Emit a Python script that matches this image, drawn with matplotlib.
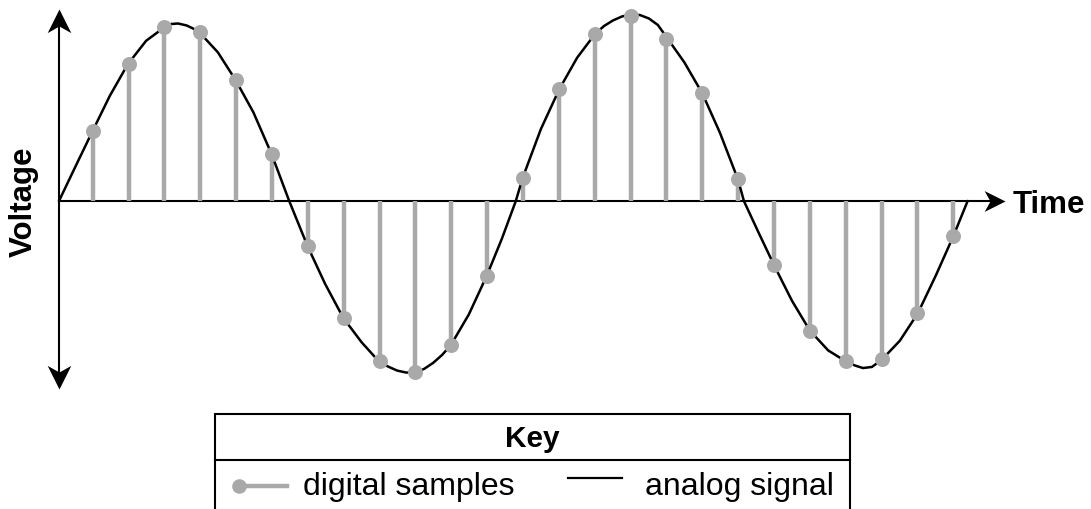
import matplotlib
matplotlib.use("Agg")
import matplotlib.pyplot as plt
from matplotlib.patches import Rectangle
from matplotlib.path import Path

# sample instants (one per sampling period) and their voltages
sample_t = list(range(1, 26))
sample_v = [0.39, 0.76, 0.965, 0.94, 0.67, 0.26, -0.25, -0.65, -0.89, -0.95,
            -0.80, -0.415, 0.13, 0.62, 0.93, 1.03, 0.90, 0.60, 0.12, -0.355,
            -0.72, -0.89, -0.88, -0.62, -0.196]

# analog signal
curve_t = [0.06, 0.53, 1.0, 1.48, 1.98, 2.49, 3.0, 3.18, 3.38, 3.62, 3.80, 3.98,
           4.49, 4.99, 5.48, 5.99, 6.48, 6.99, 7.48, 7.99, 8.50, 8.99, 9.23,
           9.49, 9.74, 9.99, 10.24, 10.49, 10.74, 10.99, 11.49, 11.99, 12.41,
           12.80, 12.99, 13.5, 14.01, 14.51, 15.01, 15.26, 15.51, 15.76, 16.01,
           16.26, 16.51, 16.76, 17.0, 17.5, 18.0, 18.49, 19.0, 19.16, 19.58,
           20.0, 20.5, 21.0, 21.51, 22.01, 22.26, 22.48, 22.73, 23.0, 23.51,
           24.01, 24.51, 25.0, 25.40]
curve_v = [0.0, 0.196, 0.39, 0.585, 0.76, 0.89, 0.965, 0.983, 0.986, 0.975,
           0.958, 0.936, 0.826, 0.67, 0.493, 0.26, 0.0, -0.25, -0.46, -0.65,
           -0.785, -0.893, -0.919, -0.942, -0.953, -0.953, -0.933, -0.90,
           -0.856, -0.80, -0.63, -0.415, -0.21, 0.0, 0.128, 0.40, 0.62, 0.796,
           0.928, 0.972, 1.003, 1.025, 1.036, 1.033, 1.014, 0.978, 0.911, 0.77,
           0.598, 0.38, 0.117, 0.0, -0.18, -0.356, -0.554, -0.72, -0.83,
           -0.892, -0.914, -0.928, -0.922, -0.883, -0.776, -0.624, -0.415,
           -0.196, 0.0]

GRAY = "#a9a9a9"
FONT = "Liberation Sans"


def stealth(direction):
    # arrow head with a notched back, tip at the origin
    pts = [(0, 0), (0.5, -1), (0, -0.72), (-0.5, -1), (0, 0)]
    if direction == "down":
        pts = [(x, -y) for x, y in pts]
    elif direction == "right":
        pts = [(-y, x) for x, y in pts]
        pts = [(-x, y) for x, y in pts]
    codes = [Path.MOVETO] + [Path.LINETO] * 3 + [Path.CLOSEPOLY]
    return Path(pts, codes)


fig = plt.figure(figsize=(10.91, 5.10), dpi=100, facecolor="white")
ax = fig.add_axes([0, 0, 1, 1])
ax.set_xlim(-1.585, 28.84)
ax.set_ylim(-1.711, 1.122)
ax.set_axis_off()

# axes with arrow heads
ax.plot([0.06, 0.06], [1.0, -0.98], color="black", lw=1.5, zorder=2)
ax.plot([0.06, 26.2], [0, 0], color="black", lw=1.5, zorder=2)
ax.plot([0.06], [1.067], marker=stealth("up"), ms=34, color="black", mec="none")
ax.plot([0.06], [-1.044], marker=stealth("down"), ms=34, color="black", mec="none")
ax.plot([26.44], [0], marker=stealth("right"), ms=30, color="black", mec="none")

# stems, analog curve, sample dots
ax.vlines(sample_t, 0, sample_v, color=GRAY, lw=3.2, zorder=2)
ax.plot(curve_t, curve_v, color="black", lw=1.8, solid_joinstyle="round",
        solid_capstyle="round", zorder=3)
ax.plot(sample_t, sample_v, "o", color=GRAY, ms=10.8, mec="none", zorder=4)

ax.text(-0.92, 0.0, "Voltage", rotation=90, ha="center", va="center",
        fontsize=22.5, fontweight="bold", family=FONT)
ax.text(26.66, -0.061, "Time", ha="left", va="baseline",
        fontsize=22.5, fontweight="bold", family=FONT)

# key box
ax.add_patch(Rectangle((4.41, -1.9), 22.12 - 4.41, -1.183 + 1.9, fill=False,
                       lw=1.5, edgecolor="black", zorder=5))
ax.plot([4.41, 22.12], [-1.439, -1.439], color="black", lw=1.5, zorder=5)
ax.text(13.26, -1.361, "Key", ha="center", va="baseline",
        fontsize=21.5, fontweight="bold", family=FONT)
ax.plot([5.09, 6.42], [-1.585, -1.585], color=GRAY, lw=3.2)
ax.plot([5.09], [-1.585], "o", color=GRAY, ms=10.5, mec="none")
ax.text(6.86, -1.628, "digital samples", ha="left", va="baseline",
        fontsize=23, family=FONT)
ax.plot([14.25, 15.76], [-1.539, -1.539], color="black", lw=1.6)
ax.text(16.4, -1.628, "analog signal", ha="left", va="baseline",
        fontsize=23, family=FONT)

fig.savefig("out.png", dpi=100, facecolor="white")
